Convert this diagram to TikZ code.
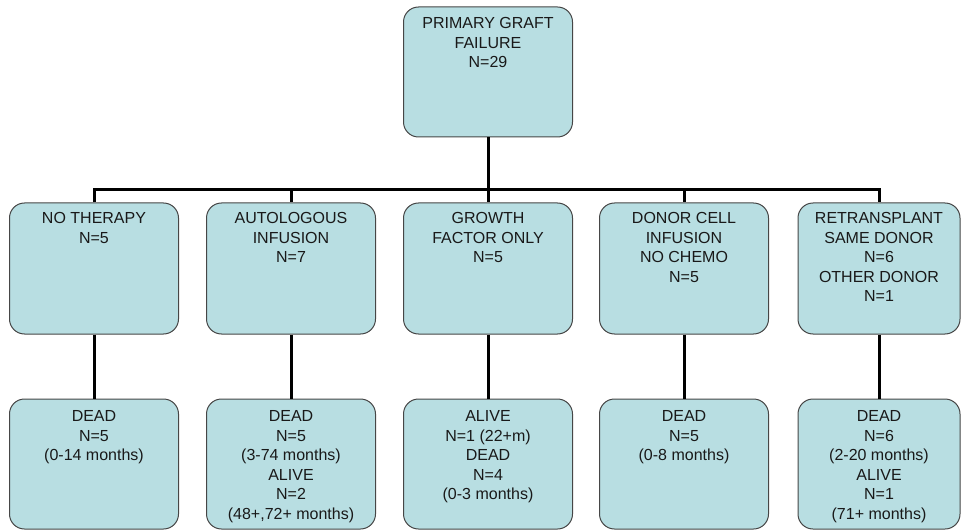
\documentclass[tikz,border=0pt]{standalone}
\usepackage{fontspec}
\setmainfont{Liberation Sans}
\definecolor{boxfill}{RGB}{184,222,226}
\definecolor{boxline}{RGB}{70,70,70}
\definecolor{txt}{RGB}{25,25,25}
\begin{document}
\begin{tikzpicture}[x=1pt,y=1pt,
  box/.style={draw=boxline, line width=1pt, fill=boxfill, rounded corners=15pt,
    minimum width=169pt, minimum height=130pt, inner sep=0pt},
  lbl/.style={anchor=north, inner sep=0pt, align=center, text=txt,
    font=\fontsize{16pt}{19.5pt}\selectfont},
  conn/.style={line width=3pt, black}]
\useasboundingbox (0,0) rectangle (961,531);
% boxes
\node[box] (top) at (488,459) {};
\node[box, minimum height=131pt] (m1) at (94,262.5) {};
\node[box, minimum height=131pt] (m2) at (291,262.5) {};
\node[box, minimum height=131pt] (m3) at (488,262.5) {};
\node[box, minimum height=131pt] (m4) at (684,262.5) {};
\node[box, minimum height=131pt, minimum width=162pt] (m5) at (879,262.5) {};
\node[box] (b1) at (94,67) {};
\node[box] (b2) at (291,67) {};
\node[box] (b3) at (488,67) {};
\node[box] (b4) at (684,67) {};
\node[box, minimum width=162pt] (b5) at (879,67) {};
% texts
\node[lbl] (ttop) at ([yshift=-11pt]top.north) {PRIMARY GRAFT\\FAILURE\\N=29};
\node[lbl] (tm1) at ([yshift=-10pt]m1.north) {NO THERAPY\\N=5};
\node[lbl] (tm2) at ([yshift=-10pt]m2.north) {AUTOLOGOUS\\INFUSION\\N=7};
\node[lbl] (tm3) at ([yshift=-10pt]m3.north) {GROWTH\\FACTOR ONLY\\N=5};
\node[lbl] (tm4) at ([yshift=-10pt]m4.north) {DONOR CELL\\INFUSION\\NO CHEMO\\N=5};
\node[lbl] (tm5) at ([yshift=-10pt]m5.north) {RETRANSPLANT\\SAME DONOR\\N=6\\OTHER DONOR\\N=1};
\node[lbl] (tb1) at ([yshift=-12pt]b1.north) {DEAD\\N=5\\(0-14 months)};
\node[lbl] (tb2) at ([yshift=-12pt]b2.north) {DEAD\\N=5\\(3-74 months)\\ALIVE\\N=2\\(48+,72+ months)};
\node[lbl] (tb3) at ([yshift=-12pt]b3.north) {ALIVE\\N=1 (22+m)\\DEAD\\N=4\\(0-3 months)};
\node[lbl] (tb4) at ([yshift=-12pt]b4.north) {DEAD\\N=5\\(0-8 months)};
\node[lbl] (tb5) at ([yshift=-12pt]b5.north) {DEAD\\N=6\\(2-20 months)\\ALIVE\\N=1\\(71+ months)};
% connectors
\coordinate (bar) at (488,341);
\draw[conn] (top.south) -- (bar);
\draw[conn] (m1.north) |- (bar) -| (m5.north);
\draw[conn] (bar -| m2.north) -- (m2.north);
\draw[conn] (bar) -- (m3.north);
\draw[conn] (bar -| m4.north) -- (m4.north);
\foreach \i in {1,...,5} {\draw[conn] (m\i.south) -- (b\i.north);}
\end{tikzpicture}
\end{document}
